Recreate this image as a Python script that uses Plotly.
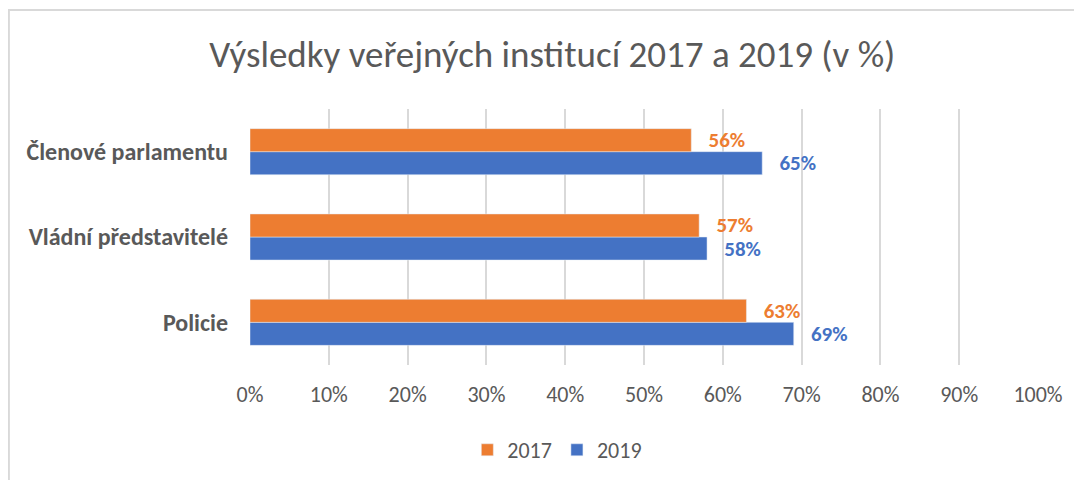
import plotly.graph_objects as go

categories = ["Policie", "Vládní představitelé", "Členové parlamentu"]
values_2017 = [63, 57, 56]
values_2019 = [69, 58, 65]
years = ["2017", "2019"]

ORANGE = "#ED7D31"
BLUE = "#4472C4"
GREY = "#595959"
FONT = "Calibri, Carlito, Lato, sans-serif"
PAD = "\u00a0\u00a0\u00a0"

fig = go.Figure()
# 2019 first so it sits below 2017 inside each group
fig.add_trace(go.Bar(
    y=categories, x=values_2019, name=years[1], orientation="h",
    marker=dict(color=BLUE), legendrank=2,
    text=[f"{PAD}{v}%" for v in values_2019], textposition="outside",
    constraintext="none",
    textfont=dict(color=BLUE, size=21, family=FONT, weight="bold"),
    cliponaxis=False,
))
fig.add_trace(go.Bar(
    y=categories, x=values_2017, name=years[0], orientation="h",
    marker=dict(color=ORANGE), legendrank=1,
    text=[f"{PAD}{v}%" for v in values_2017], textposition="outside",
    constraintext="none",
    textfont=dict(color=ORANGE, size=21, family=FONT, weight="bold"),
    cliponaxis=False,
))

fig.update_layout(
    width=1082, height=480,
    margin=dict(l=242, r=52, t=101, b=123),
    paper_bgcolor="white", plot_bgcolor="white",
    font=dict(family=FONT, color=GREY),
    barmode="group", bargap=0.46, bargroupgap=0,
    title=dict(text="Výsledky veřejných institucí 2017 a 2019 (v %)",
               x=0.503, xanchor="center", y=0.904, yanchor="middle",
               font=dict(size=37, color=GREY, family=FONT)),
    xaxis=dict(range=[0, 100], dtick=10, ticksuffix="%",
               showgrid=True, gridcolor="#D9D9D9", gridwidth=2,
               zeroline=False, showline=False, automargin=False,
               tickfont=dict(size=22, color=GREY), ticklabelstandoff=14),
    yaxis=dict(showgrid=False, showline=False, zeroline=False, automargin=False,
               tickfont=dict(size=24, color=GREY, weight="bold"),
               ticklabelstandoff=21),
    legend=dict(orientation="h", x=0.39, xanchor="center",
                y=-0.332, yanchor="middle",
                font=dict(size=22, color=GREY), itemwidth=30),
    showlegend=True,
)

# chart frame
fig.add_shape(type="rect", xref="paper", yref="paper",
              x0=-0.306, x1=1.2, y0=-0.6, y1=1.387,
              line=dict(color="#D9D9D9", width=2), layer="below")

fig.write_html("out.html")
